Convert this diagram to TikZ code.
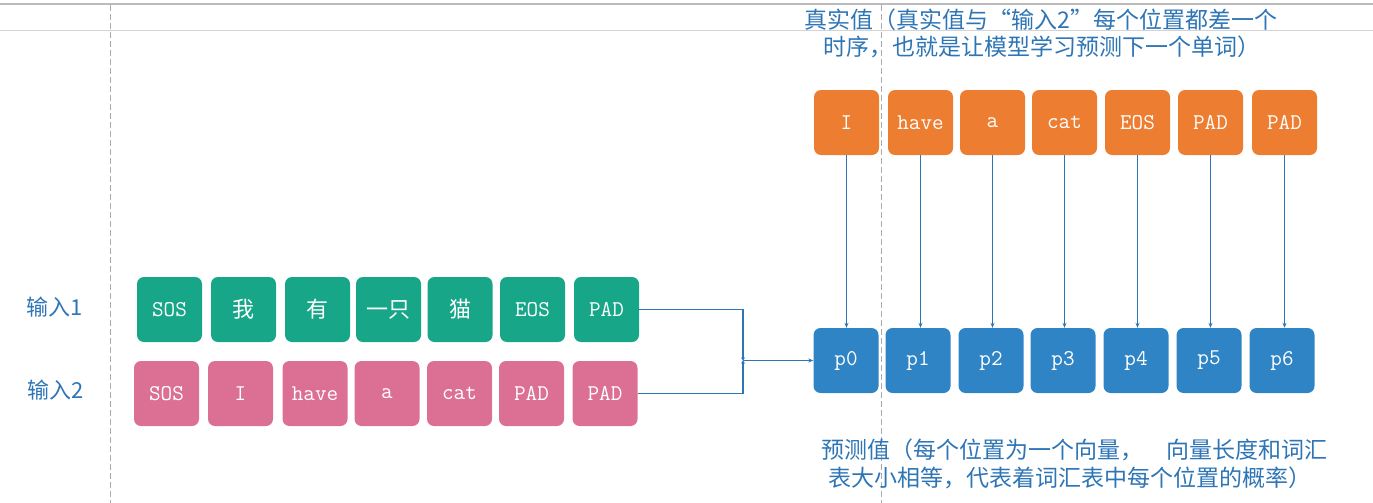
\documentclass[tikz,border=0pt]{standalone}
\usepackage{fontspec}
\newfontfamily\cjk{Noto Sans CJK SC}
\usetikzlibrary{arrows.meta}
\definecolor{tgreen}{RGB}{23,166,136}
\definecolor{tpink}{RGB}{220,112,148}
\definecolor{torange}{RGB}{237,125,49}
\definecolor{tblue}{RGB}{46,132,196}
\definecolor{lblue}{RGB}{46,117,182}
\definecolor{gridgray}{RGB}{170,170,170}
\begin{document}
\begin{tikzpicture}[x=1pt,y=-1pt,
  tok/.style={rounded corners=7pt, minimum width=65pt, minimum height=65pt, inner sep=0pt, text=white, font=\fontsize{22.5}{24}\selectfont\ttfamily},
  cjktok/.style={tok, font=\fontsize{22}{24}\selectfont\cjk},
  gtok/.style={tok, fill=tgreen},
  gctok/.style={cjktok, fill=tgreen},
  ptok/.style={tok, fill=tpink},
  otok/.style={tok, fill=torange},
  btok/.style={tok, fill=tblue},
  lbl/.style={inner sep=0pt, text=lblue, font=\fontsize{23}{26}\selectfont\cjk},
  side/.style={lbl, font=\fontsize{22}{24}\selectfont\cjk},
  conn/.style={draw=lblue, line width=1.1pt, -{Stealth[length=5pt,width=4pt]}},
  grid/.style={draw=gridgray, line width=0.8pt, dash pattern=on 6pt off 3pt}
]
\useasboundingbox (0,0) rectangle (1373,503);
% background grid
\draw[draw=gridgray!80, line width=2pt] (0,4) -- (1373,4);
\draw[draw=gridgray!50, line width=0.8pt] (0,30) -- (1373,30);
\draw[grid] (110,5) -- (110,503);
\draw[grid] (881,5) -- (881,503);

% labels
\node[side] (in1) at (55,307) {输入1};
\node[side] (in2) at (56,390) {输入2};
\node[lbl] (t1) at (1041,20) {真实值（真实值与“输入2”每个位置都差一个};
\node[lbl] (t2) at (1042,47) {时序，也就是让模型学习预测下一个单词）};
\node[lbl] (u1) at (1074,450) {预测值（每个位置为一个向量，　向量长度和词汇};
\node[lbl] (u2) at (1070,478) {表大小相等，代表着词汇表中每个位置的概率）};

% input 1
\node[gtok]  (g1) at (169.5,309.5) {SOS};
\node[gctok] (g2) at (243.5,309.5) {我};
\node[gctok] (g3) at (317.5,309.5) {有};
\node[gctok] (g4) at (388.5,309.5) {一只};
\node[gctok] (g5) at (460,309.5) {猫};
\node[gtok]  (g6) at (532.5,309.5) {EOS};
\node[gtok]  (g7) at (606.5,309.5) {PAD};

% input 2
\node[ptok] (q1) at (166.5,393.5) {SOS};
\node[ptok] (q2) at (240.5,393.5) {I};
\node[ptok] (q3) at (315,393.5) {have};
\node[ptok] (q4) at (387,393.5) {a};
\node[ptok] (q5) at (459.5,393.5) {cat};
\node[ptok] (q6) at (531.5,393.5) {PAD};
\node[ptok] (q7) at (605,393.5) {PAD};

% targets
\node[otok] (o0) at (846.5,122.5) {I};
\node[otok] (o1) at (920.5,122.5) {have};
\node[otok] (o2) at (992.5,122.5) {a};
\node[otok] (o3) at (1064.5,122.5) {cat};
\node[otok] (o4) at (1137.5,122.5) {EOS};
\node[otok] (o5) at (1210.5,122.5) {PAD};
\node[otok] (o6) at (1284.5,122.5) {PAD};

% predictions
\node[btok] (b0) at (846,360.5) {p0};
\node[btok] (b1) at (918,360.5) {p1};
\node[btok] (b2) at (991,360.5) {p2};
\node[btok] (b3) at (1063,360.5) {p3};
\node[btok] (b4) at (1136,360.5) {p4};
\node[btok] (b5) at (1209,360.5) {p5};
\node[btok] (b6) at (1282,360.5) {p6};

% connectors
\coordinate (J) at (743,360.5);
\draw[conn, -{Stealth[length=3pt,width=4pt]}] (g7.east) -| (J);
\draw[conn, -{Stealth[length=3pt,width=4pt]}] (q7.east) -| (J);
\draw[conn] (J) -- (b0.west);
\foreach \i in {0,...,6}{
  \draw[conn] (o\i.south) -- (o\i.south |- b\i.north);
}
\end{tikzpicture}
\end{document}
